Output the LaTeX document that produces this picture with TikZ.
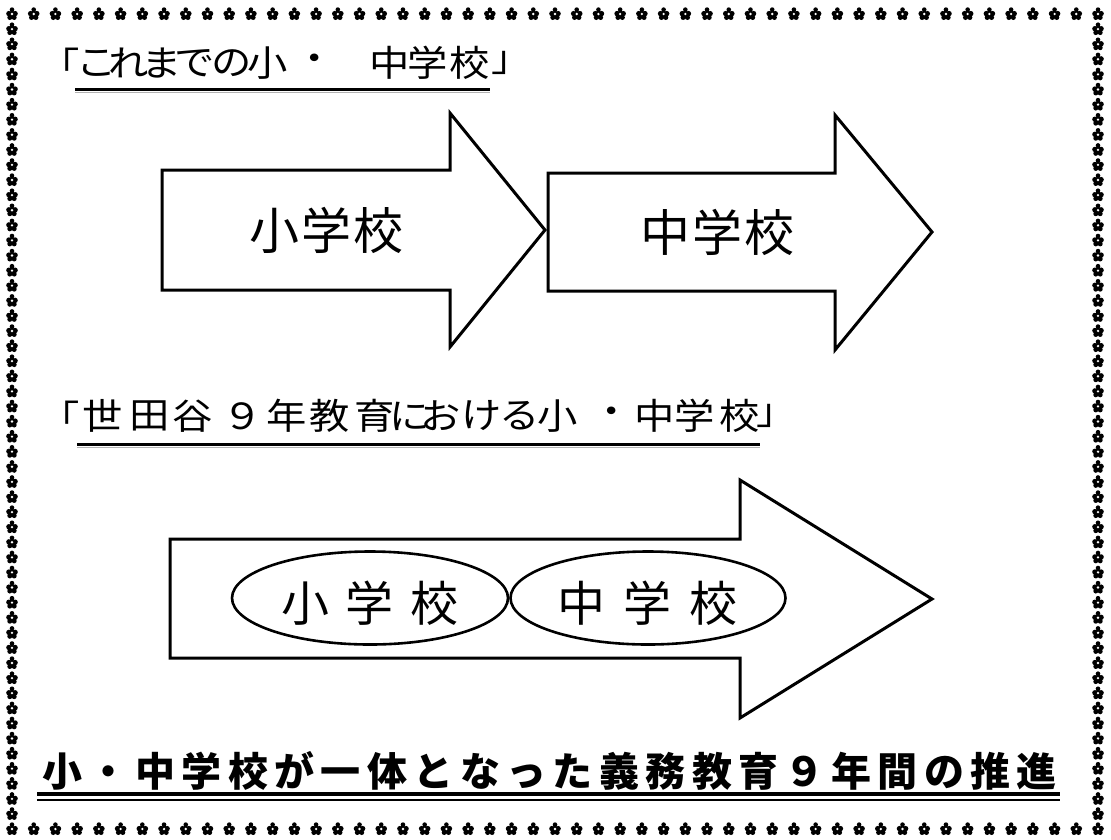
\documentclass[tikz,border=0pt]{standalone}
\usepackage{fontspec}
\usepackage{graphicx}
\usetikzlibrary{shapes.geometric}
\newfontfamily\jp{Noto Sans CJK JP}
\ExplSyntaxOn
\NewDocumentCommand\pitch{mm}{\tl_map_inline:nn{#2}{\makebox[#1]{##1}}}
\ExplSyntaxOff
\tikzset{
  flower/.pic={
    \fill (0,-4.4) circle[radius=2.3pt] (-3.1,-0.4) circle[radius=2.7pt] (3.1,-0.4) circle[radius=2.7pt]
          (-2.2,3.5) circle[radius=2.5pt] (2.2,3.5) circle[radius=2.5pt] (0,0.3) circle[radius=2.9pt];
    \fill[white] (0,0) circle[radius=1.3pt];
  },
  bigarrow/.style={draw=black, line width=3pt, line join=miter, fill=white},
  oval/.style={draw=black, line width=2.6pt, ellipse, minimum width=276pt, minimum height=93pt, inner sep=0pt},
  txt/.style={inner sep=0pt, font=\jp},
  ttl/.style={inner sep=0pt, font=\jp\fontsize{36}{36}\selectfont},
  uline/.style={line width=3pt},
  uthin/.style={line width=1pt, black!30},
}
\begin{document}
\begin{tikzpicture}[x=1pt,y=-1pt]
\fill[white] (0,0) rectangle (1111,839);
\useasboundingbox (0,0) rectangle (1111,839);
% border of flowers
\foreach \i in {0,...,50} {
  \pgfmathsetmacro\xx{12+\i*21.72}
  \pic at (\xx,14) {flower};
  \pic at (\xx,829) {flower};
}
\foreach \i in {1,...,53} {
  \pgfmathsetmacro\yy{14+\i*15.0926}
  \pic at (12,\yy) {flower};
  \pic at (1098,\yy) {flower};
}
% title 1
\foreach \c/\x [count=\k] in {「/60,こ/97,れ/129,ま/162,で/195,の/232,小/268,・/315,中/390,学/428,校/470,」/512}
  \node[ttl] (ta\k) at (\x,63) {\scalebox{1.12}[1]{\c}};
\draw[uthin] (75,92) -- (490,92);
\draw[uline] (75,89) -- (490,89);
% arrows row 1
\draw[bigarrow] (162,170) -- (450,170) -- (450,113) -- (545,230) -- (450,347) -- (450,290) -- (162,290) -- cycle;
\node[txt, font=\jp\fontsize{50}{50}\selectfont] (a1) at (326,230) {\pitch{52pt}{小学校}};
\draw[bigarrow] (548,173) -- (835,173) -- (835,115) -- (932,232) -- (835,350) -- (835,291) -- (548,291) -- cycle;
\node[txt, font=\jp\fontsize{50}{50}\selectfont] (a2) at (717,232) {\pitch{52pt}{中学校}};
% title 2
\foreach \c/\x [count=\k] in {「/60,世/103,田/150,谷/193,９/243,年/287,教/330,育/375,に/410,お/441,け/482,る/520,小/558,・/612,中/655,学/695,校/740,」/777}
  \node[ttl] (tb\k) at (\x,416) {\scalebox{1.12}[1]{\c}};
\draw[uthin] (77,447) -- (760,447);
\draw[uline] (77,444) -- (760,444);
% big arrow
\draw[bigarrow] (170,539) -- (740,539) -- (740,480) -- (932,599) -- (740,718) -- (740,658) -- (170,658) -- cycle;
\node[oval] (e1) at (370,598) {};
\node[oval, minimum width=275pt] (e2) at (648,598) {};
\node[txt, font=\jp\fontsize{48}{48}\selectfont] (l1) at (370,603) {\pitch{65pt}{小学校}};
\node[txt, font=\jp\fontsize{48}{48}\selectfont] (l2) at (647,603) {\pitch{66pt}{中学校}};
% bottom text
\node[txt, anchor=west, font=\jp\bfseries\fontsize{40}{40}\selectfont] (bt) at (39,771) {\pitch{46.4pt}{小・中学校が一体となった義務教育９年間の推進}};
\draw[line width=1.3pt] (37,800) -- (1060,800);
\draw[line width=3.5pt] (37,794) -- (1060,794);
\end{tikzpicture}
\end{document}
